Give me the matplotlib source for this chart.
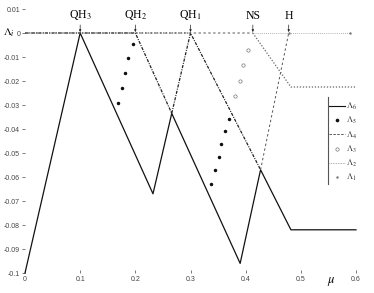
import numpy as np
import matplotlib
matplotlib.use('Agg')
import matplotlib.pyplot as plt
from matplotlib.lines import Line2D

plt.rcParams['font.family'] = ['Liberation Sans', 'DejaVu Sans']
plt.rcParams['mathtext.fontset'] = 'stix'

# Lyapunov exponents vs mu (breakpoints)
mu6 = [0, 0.1, 0.232, 0.266, 0.39, 0.427, 0.482, 0.6]
lam6 = [-0.1, 0, -0.067, -0.0335, -0.096, -0.057, -0.082, -0.082]

mu5 = [0, 0.2, 0.266, 0.3, 0.427]
lam5 = [0, 0, -0.0335, 0, -0.057]

mu4 = [0.2, 0.413, np.nan, 0.427, 0.478]
lam4 = [0, 0, np.nan, -0.057, 0]

mu3 = [0, 0.3, np.nan, 0.413, 0.482, 0.6]
lam3 = [0, 0, np.nan, 0, -0.0225, -0.0225]

mu2 = [0.413, 0.59]
lam2 = [0, 0]

mu1 = [0.478, 0.59]
lam1 = [0, 0]

# isolated points (steep columns)
mu5_pts = [0.195, 0.187, 0.182, 0.175, 0.169,
           0.369, 0.362, 0.356, 0.351, 0.344, 0.338]
lam5_pts = [-0.0046, -0.0104, -0.0167, -0.0229, -0.0292,
            -0.0358, -0.0408, -0.0463, -0.0517, -0.0571, -0.0629]
mu3_pts = [0.405, 0.396, 0.389, 0.38]
lam3_pts = [-0.0071, -0.0133, -0.02, -0.0263]

events = ['QH$_3$', 'QH$_2$', 'QH$_1$', 'NS', 'H']
event_mu = [0.1, 0.2, 0.3, 0.413, 0.478]

yticks = [0.01, 0, -0.01, -0.02, -0.03, -0.04, -0.05, -0.06, -0.07, -0.08, -0.09, -0.1]
ytick_labels = ['0.01', '0', '-0.01', '-0.02', '-0.03', '-0.04', '-0.05',
                '-0.06', '-0.07', '-0.08', '-0.09', '-0.1']
xticks = [0, 0.1, 0.2, 0.3, 0.4, 0.5, 0.6]
xtick_labels = ['0', '0.1', '0.2', '0.3', '0.4', '0.5', '0.6']

fig = plt.figure(figsize=(3.74, 2.93), dpi=100)
ax = fig.add_axes([25/374, 20/293, 331/374, 264/293])

ax.plot(mu6, lam6, color='#111111', lw=0.9, clip_on=False)
ax.plot(mu5, lam5, color='#222222', lw=0.9, ls=(0, (2.5, 1.0, 0.8, 1.0)), clip_on=False)
ax.plot(mu4, lam4, color='#555555', lw=0.7, ls=(0, (2.5, 2.5)), clip_on=False)
ax.plot(mu3, lam3, color='#666666', lw=0.9, ls=(0, (1, 1.4)), clip_on=False)
ax.plot(mu2, lam2, color='#999999', lw=0.6, ls=(0, (1, 1.5)), clip_on=False)
ax.plot(mu1, lam1, color='#777777', lw=0, marker='.', ms=1.5, clip_on=False)
ax.plot(mu5_pts, lam5_pts, ls='none', marker='o', ms=1.5, color='#111111')
ax.plot(mu3_pts, lam3_pts, ls='none', marker='o', ms=2.4, mfc='white',
        mec='#777777', mew=0.5)

ax.set_xlim(0, 0.6)
ax.set_ylim(-0.1, 0.01)
for s in ax.spines.values():
    s.set_visible(False)

ax.set_yticks(yticks)
ax.set_yticklabels(ytick_labels)
ax.set_xticks(xticks)
ax.set_xticklabels(xtick_labels)
ax.tick_params(axis='y', direction='out', length=2.5, width=0.5, pad=1,
               labelsize=5, colors='#444444')
ax.tick_params(axis='x', direction='in', length=2, width=0.5, pad=2,
               labelsize=5, colors='#444444')

for name, m in zip(events, event_mu):
    ax.annotate(name, xy=(m, 0.0004), xytext=(m, 0.0045),
                ha='center', va='bottom', fontsize=8.5, family='serif',
                fontname='Liberation Serif',
                arrowprops=dict(arrowstyle='-|>', lw=0.5, color='#222222',
                                mutation_scale=3, shrinkA=0, shrinkB=0))

fig.text(3/374, 1 - 33/293, r'$\Lambda_i$', fontsize=8, va='center', ha='left')
fig.text(331/374, 1 - 282/293, r'$\mu$', fontsize=9, va='center', ha='center')

handles = [
    Line2D([], [], color='#111111', lw=0.8),
    Line2D([], [], ls='none', marker='o', ms=1.6, color='#111111'),
    Line2D([], [], color='#555555', lw=0.7, ls=(0, (2.5, 1.5))),
    Line2D([], [], ls='none', marker='o', ms=2.4, mfc='white', mec='#777777', mew=0.5),
    Line2D([], [], color='#999999', lw=0.6, ls=(0, (1, 1))),
    Line2D([], [], ls='none', marker='.', ms=1.5, color='#777777'),
]
labels = [r'$\Lambda_6$', r'$\Lambda_5$', r'$\Lambda_4$', r'$\Lambda_3$',
          r'$\Lambda_2$', r'$\Lambda_1$']
leg = ax.legend(handles, labels, loc='upper left', frameon=False,
                bbox_to_anchor=(329/374, 1 - 101/293), bbox_transform=fig.transFigure,
                fontsize=6.2, handlelength=1.8, handletextpad=0.2,
                labelspacing=0.35, borderpad=0, borderaxespad=0)
for t in leg.get_texts():
    t.set_color('#333333')
fig.add_artist(Line2D([328/374, 328/374], [1 - 97/293, 1 - 184/293],
                      color='#555555', lw=0.8))

fig.savefig('out.png', dpi=100)
